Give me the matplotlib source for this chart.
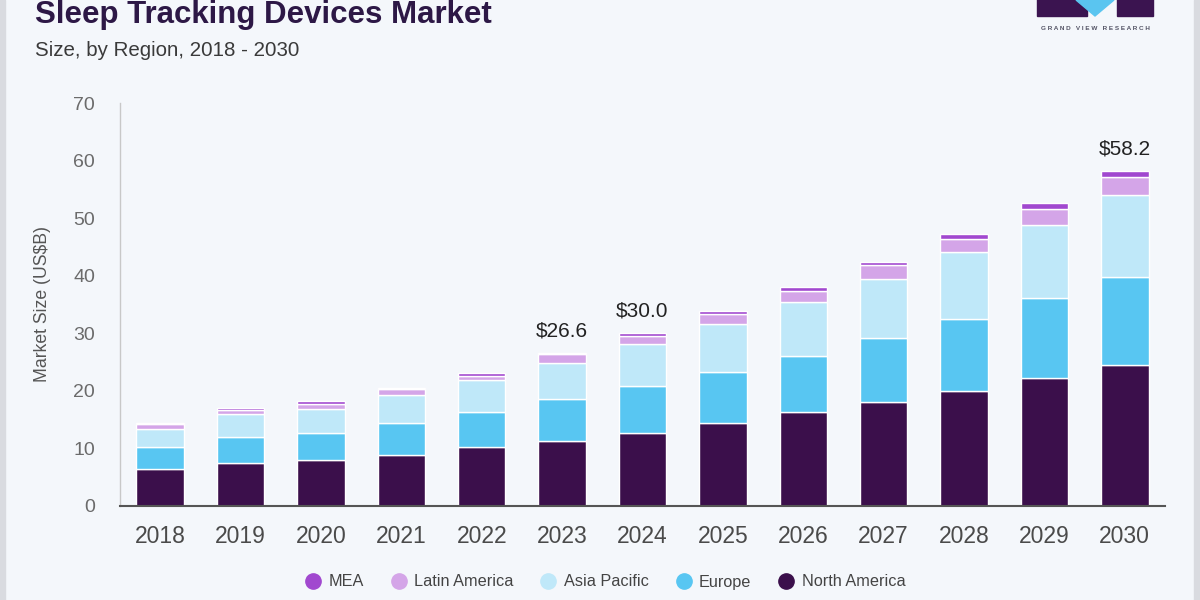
import matplotlib
matplotlib.use("Agg")
import matplotlib.pyplot as plt
import numpy as np
from matplotlib.patches import Rectangle, Polygon
from matplotlib.lines import Line2D

years = ["2018", "2019", "2020", "2021", "2022", "2023", "2024",
         "2025", "2026", "2027", "2028", "2029", "2030"]
north_america = [6.4, 7.4, 8.0, 8.9, 10.25, 11.35, 12.7, 14.4, 16.3, 18.0, 20.0, 22.3, 24.5]
europe = [3.85, 4.5, 4.6, 5.5, 6.05, 7.25, 8.1, 8.9, 9.8, 11.1, 12.5, 13.8, 15.3]
asia_pacific = [3.15, 4.0, 4.2, 4.9, 5.6, 6.3, 7.3, 8.3, 9.4, 10.4, 11.6, 12.7, 14.3]
latin_america = [0.9, 0.8, 0.9, 1.0, 0.7, 1.5, 1.5, 1.7, 1.8, 2.4, 2.2, 2.8, 3.1]
mea = [0.1, 0.4, 0.5, 0.2, 0.5, 0.2, 0.4, 0.5, 0.7, 0.5, 0.9, 1.0, 1.0]
labels = {"2023": "$26.6", "2024": "$30.0", "2030": "$58.2"}

series = [
    ("North America", north_america, "#3b0f4b"),
    ("Europe", europe, "#58c6f2"),
    ("Asia Pacific", asia_pacific, "#bfe8f9"),
    ("Latin America", latin_america, "#d4a5e8"),
    ("MEA", mea, "#a148cf"),
]

plt.rcParams['font.family'] = ['Liberation Sans', 'DejaVu Sans']
bg = "#f4f7fb"
fig = plt.figure(figsize=(12, 6), dpi=100, facecolor=bg)
ax = fig.add_axes([120/1200, 1 - 506/600, 1045/1200, 403/600])
ax.set_facecolor(bg)

x = np.arange(len(years))
bottom = np.zeros(len(years))
for name, vals, col in series:
    v = np.array(vals)
    ax.bar(x, v, bottom=bottom, width=0.59, color=col, edgecolor="white",
           linewidth=1.0, label=name, zorder=2)
    bottom += v

for i, y in enumerate(years):
    if y in labels:
        ax.text(x[i], bottom[i] + 2.2, labels[y], ha="center", va="bottom",
                fontsize=15, color="#222222")

ax.set_xlim(-0.5, len(years) - 0.5)
ax.set_ylim(0, 70)
ax.set_yticks(np.arange(0, 71, 10))
ax.set_xticks(x)
ax.set_xticklabels(years)
ax.tick_params(axis="y", length=0, pad=18, labelsize=14, labelcolor="#6b6b6b")
ax.tick_params(axis="x", length=0, pad=14, labelsize=16.5, labelcolor="#4a4a4a")
for s in ["top", "right"]:
    ax.spines[s].set_visible(False)
ax.spines["left"].set_color("#c8c8c8")
ax.spines["left"].set_linewidth(1.0)
ax.spines["bottom"].set_color("#555555")
ax.spines["bottom"].set_linewidth(1.5)
ax.set_ylabel("Market Size (US$B)", fontsize=12.7, color="#555555", labelpad=16)

# title and subtitle
fig.text(35/1200, 1 - 15/600, "Sleep Tracking Devices Market", fontsize=22.5,
         fontweight="bold", color="#2d1846", va="center", ha="left")
fig.text(35/1200, 1 - 50/600, "Size, by Region, 2018 - 2030", fontsize=14.8,
         color="#3a3a3a", va="center", ha="left")

# logo
fig.patches.append(Rectangle((1037/1200, 1 - 16/600), 50/1200, 20/600,
                             transform=fig.transFigure, color="#3b1450", zorder=3))
fig.patches.append(Rectangle((1117/1200, 1 - 16/600), 36/1200, 20/600,
                             transform=fig.transFigure, color="#3b1450", zorder=3))
fig.patches.append(Polygon([(1076/1200, 1.0), (1114/1200, 1.0), (1095/1200, 1 - 16/600)],
                           closed=True, transform=fig.transFigure, color="#5ac5f0", zorder=4))
fig.text(1095/1200, 1 - 29/600, "G R A N D   V I E W   R E S E A R C H", fontsize=4.6,
         fontweight="bold", color="#555566", ha="center", va="center")

# legend
handles = [Line2D([0], [0], marker="o", linestyle="", markersize=11,
                  markerfacecolor=col, markeredgecolor=col)
           for name, vals, col in series[::-1]]
names = [name for name, vals, col in series[::-1]]
fig.legend(handles, names, loc="center", bbox_to_anchor=(605/1200, 1 - 582/600),
           ncol=5, frameon=False, fontsize=11.7, labelcolor="#444444",
           handlelength=1.0, handletextpad=0.45, columnspacing=1.65)

# side borders
fig.patches.append(Rectangle((0, 0), 5/1200, 1, transform=fig.transFigure,
                             color="#d9dbe0", zorder=5))
fig.patches.append(Rectangle((1194/1200, 0), 6/1200, 1, transform=fig.transFigure,
                             color="#d9dbe0", zorder=5))

fig.savefig("out.png", dpi=100, facecolor=bg)
